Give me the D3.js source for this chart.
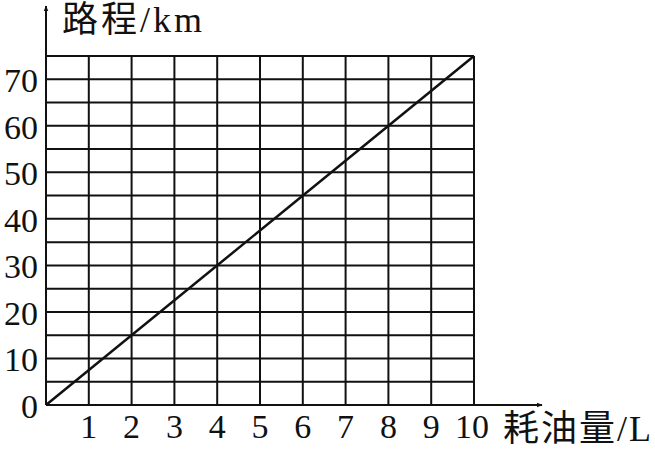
<!DOCTYPE html>
<html>
<head>
<meta charset="utf-8">
<script src="https://cdn.jsdelivr.net/npm/d3@7"></script>
<style>
  body { margin: 0; background: #fff; }
  svg { display: block; }
</style>
</head>
<body>
<svg id="chart"></svg>
<script>
// data
const fuelL = [0, 10];
const distanceKm = [0, 75];
const xTicks = [1, 2, 3, 4, 5, 6, 7, 8, 9, 10];
const yLabels = [0, 10, 20, 30, 40, 50, 60, 70];
const yGrid = [5, 10, 15, 20, 25, 30, 35, 40, 45, 50, 55, 60, 65, 70, 75];
const xTitle = "耗油量/L";
const yTitle = "路程/km";

const width = 655, height = 451;
const svg = d3.select("#chart").attr("width", width).attr("height", height);

const x = d3.scaleLinear().domain([0, 10]).range([46, 474]);
const y = d3.scaleLinear().domain([0, 75]).range([405, 56]);

const ink = "#111";
const serif = "'Liberation Serif', 'Noto Sans CJK SC', serif";

svg.append("defs").append("marker")
    .attr("id", "arrow")
    .attr("viewBox", "0 0 10 10")
    .attr("refX", 9).attr("refY", 5)
    .attr("markerWidth", 6).attr("markerHeight", 6)
    .attr("markerUnits", "userSpaceOnUse")
    .attr("orient", "auto")
    .append("path")
    .attr("d", "M0,1 L10,5 L0,9 Z")
    .attr("fill", ink);

// grid
svg.append("g").selectAll("line").data(yGrid).join("line")
    .attr("x1", x(0)).attr("x2", x(10))
    .attr("y1", d => y(d)).attr("y2", d => y(d))
    .attr("stroke", ink).attr("stroke-width", 2);

svg.append("g").selectAll("line").data(xTicks).join("line")
    .attr("x1", d => x(d)).attr("x2", d => x(d))
    .attr("y1", y(0)).attr("y2", y(75))
    .attr("stroke", ink).attr("stroke-width", 2);

// axes with arrows
svg.append("line")
    .attr("x1", x(0)).attr("y1", y(0)).attr("x2", 542).attr("y2", y(0))
    .attr("stroke", ink).attr("stroke-width", 2)
    .attr("marker-end", "url(#arrow)");
svg.append("line")
    .attr("x1", x(0)).attr("y1", y(0)).attr("x2", x(0)).attr("y2", 6)
    .attr("stroke", ink).attr("stroke-width", 2)
    .attr("marker-end", "url(#arrow)");

// data line
svg.append("path")
    .datum(fuelL.map((f, i) => [f, distanceKm[i]]))
    .attr("d", d3.line().x(d => x(d[0])).y(d => y(d[1])))
    .attr("fill", "none").attr("stroke", ink).attr("stroke-width", 2.5);

// tick labels
svg.append("g").selectAll("text").data(yLabels).join("text")
    .attr("x", 38).attr("y", d => y(d) + 13)
    .attr("text-anchor", "end")
    .attr("font-family", serif).attr("font-size", 34)
    .attr("fill", ink)
    .text(d => d);

svg.append("g").selectAll("text").data(xTicks).join("text")
    .attr("x", d => x(d) - (d === 10 ? 2 : 0)).attr("y", 438)
    .attr("text-anchor", "middle")
    .attr("font-family", serif).attr("font-size", 34)
    .attr("fill", ink)
    .text(d => d);

// axis titles
svg.append("text")
    .attr("x", 62).attr("y", 32)
    .attr("font-family", serif).attr("font-size", 36)
    .attr("letter-spacing", 3)
    .attr("fill", ink)
    .text(yTitle);

svg.append("text")
    .attr("x", 503).attr("y", 441)
    .attr("font-family", serif).attr("font-size", 36)
    .attr("letter-spacing", 2)
    .attr("fill", ink)
    .text(xTitle);
</script>
</body>
</html>
